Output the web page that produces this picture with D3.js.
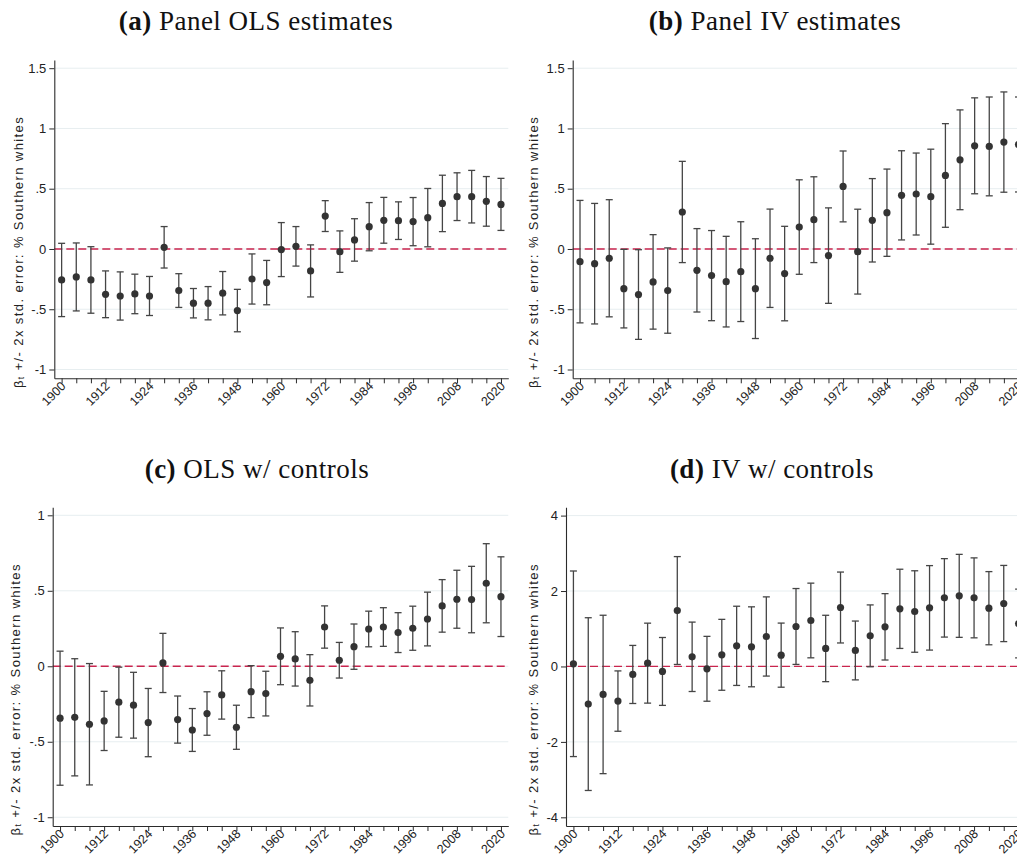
<!DOCTYPE html>
<html>
<head>
<meta charset="utf-8">
<script src="https://cdn.jsdelivr.net/npm/d3@7"></script>
<style>
  body { margin: 0; background: #fff; }
  svg { display: block; }
</style>
</head>
<body>
<svg id="chart" width="1017" height="854"></svg>
<script>
// Election years covered by every panel
const years = [1900, 1904, 1908, 1912, 1916, 1920, 1924, 1928, 1932, 1936, 1940,
               1944, 1948, 1952, 1956, 1960, 1964, 1968, 1972, 1976, 1980, 1984,
               1988, 1992, 1996, 2000, 2004, 2008, 2012, 2016, 2020];
// Years that carry a printed label on the x axis
const yearLabels = [1900, 1912, 1924, 1936, 1948, 1960, 1972, 1984, 1996, 2008, 2020];

// y-axis tick values
const ticksPanel   = [-1, -0.5, 0, 0.5, 1, 1.5];
const ticksOlsCtrl = [-1, -0.5, 0, 0.5, 1];
const ticksIvCtrl  = [-4, -2, 0, 2, 4];

// (a) Panel OLS: coefficient and standard error per year
const olsCoef = [-0.257, -0.232, -0.257, -0.376, -0.390, -0.373, -0.390, 0.014, -0.345, -0.450, -0.450,
                 -0.367, -0.511, -0.249, -0.279, -0.005, 0.022, -0.182, 0.273, -0.022, 0.075, 0.185,
                 0.238, 0.235, 0.227, 0.260, 0.378, 0.434, 0.434, 0.395, 0.370];
const olsSe   = [0.152, 0.141, 0.138, 0.097, 0.100, 0.082, 0.081, 0.086, 0.070, 0.061, 0.069,
                 0.090, 0.088, 0.104, 0.092, 0.112, 0.082, 0.108, 0.064, 0.086, 0.088, 0.100,
                 0.095, 0.078, 0.100, 0.121, 0.117, 0.099, 0.109, 0.103, 0.108];

// (b) Panel IV
const ivCoef = [-0.105, -0.122, -0.077, -0.329, -0.378, -0.273, -0.345, 0.307, -0.177, -0.221, -0.271,
                -0.188, -0.329, -0.077, -0.204, 0.182, 0.243, -0.055, 0.519, -0.022, 0.238, 0.301,
                0.445, 0.456, 0.434, 0.610, 0.740, 0.856, 0.851, 0.887, 0.867];
const ivSe   = [0.254, 0.250, 0.243, 0.163, 0.186, 0.196, 0.177, 0.210, 0.173, 0.187, 0.188,
                0.207, 0.207, 0.204, 0.196, 0.196, 0.178, 0.198, 0.147, 0.176, 0.173, 0.181,
                0.185, 0.170, 0.197, 0.215, 0.207, 0.199, 0.205, 0.208, 0.197];

// (c) OLS with controls
const olsCtrlCoef = [-0.344, -0.338, -0.384, -0.362, -0.238, -0.258, -0.373, 0.022, -0.353, -0.422, -0.313,
                     -0.190, -0.404, -0.168, -0.181, 0.066, 0.049, -0.093, 0.260, 0.040, 0.130, 0.247,
                     0.260, 0.223, 0.252, 0.313, 0.400, 0.444, 0.442, 0.550, 0.461];
const olsCtrlSe   = [0.222, 0.194, 0.201, 0.098, 0.116, 0.109, 0.113, 0.098, 0.078, 0.071, 0.072,
                     0.080, 0.073, 0.086, 0.074, 0.094, 0.090, 0.085, 0.070, 0.059, 0.075, 0.059,
                     0.064, 0.066, 0.073, 0.089, 0.087, 0.096, 0.110, 0.131, 0.132];

// (d) IV with controls
const ivCtrlCoef = [0.071, -0.998, -0.742, -0.918, -0.212, 0.088, -0.132, 1.483, 0.256, -0.062, 0.309,
                    0.547, 0.521, 0.795, 0.300, 1.060, 1.219, 0.477, 1.563, 0.424, 0.812, 1.051,
                    1.528, 1.457, 1.554, 1.819, 1.872, 1.819, 1.545, 1.669, 1.139];
const ivCtrlSe   = [1.230, 1.145, 1.050, 0.400, 0.385, 0.530, 0.450, 0.715, 0.460, 0.430, 0.470,
                    0.525, 0.530, 0.525, 0.425, 0.503, 0.495, 0.440, 0.470, 0.390, 0.410, 0.440,
                    0.525, 0.540, 0.560, 0.520, 0.550, 0.530, 0.485, 0.505, 0.455];

const svg = d3.select('#chart');
svg.append('rect').attr('width', 1017).attr('height', 854).attr('fill', '#ffffff');

// Stata-style numbers: drop the leading zero (.5, -.5)
const fmt = v => String(v).replace(/^(-?)0\./, '$1.');

const sans = "'Liberation Sans', Arial, Helvetica, sans-serif";
const serif = "'Liberation Serif', 'Times New Roman', Times, serif";

const panels = [
  { letter: '(a)', title: ' Panel OLS estimates', coef: olsCoef, se: olsSe, ticks: ticksPanel,
    yDomain: [-1.073, 1.568], left: 54.3, right: 508.3, top: 60, bottom: 378.3,
    titleX: 256, titleY: 30, labelX: 18.3 },
  { letter: '(b)', title: ' Panel IV estimates', coef: ivCoef, se: ivSe, ticks: ticksPanel,
    yDomain: [-1.073, 1.568], left: 572.7, right: 1025.8, top: 60, bottom: 378.3,
    titleX: 775, titleY: 30, labelX: 533.3 },
  { letter: '(c)', title: ' OLS w/ controls', coef: olsCtrlCoef, se: olsCtrlSe, ticks: ticksOlsCtrl,
    yDomain: [-1.058, 1.053], left: 52.7, right: 508.3, top: 507.3, bottom: 826,
    titleX: 257, titleY: 478, labelX: 15 },
  { letter: '(d)', title: ' IV w/ controls', coef: ivCtrlCoef, se: ivCtrlSe, ticks: ticksIvCtrl,
    yDomain: [-4.23, 4.22], left: 566, right: 1026, top: 507.3, bottom: 826,
    titleX: 772, titleY: 478, labelX: 532.7 }
];

panels.forEach(p => {
  const g = svg.append('g');
  const x = d3.scaleLinear().domain([1898, 2022]).range([p.left, p.right]);
  const y = d3.scaleLinear().domain(p.yDomain).range([p.bottom, p.top]);

  // horizontal grid
  g.append('g').selectAll('line').data(p.ticks).join('line')
    .attr('x1', p.left).attr('x2', p.right)
    .attr('y1', d => y(d)).attr('y2', d => y(d))
    .attr('stroke', '#e7eef0').attr('stroke-width', 1);

  // reference line at zero
  g.append('line')
    .attr('x1', p.left).attr('x2', p.right)
    .attr('y1', y(0)).attr('y2', y(0))
    .attr('stroke', '#c9254e').attr('stroke-width', 1.3)
    .attr('stroke-dasharray', '8,4');

  const rows = years.map((yr, i) => ({ yr, c: p.coef[i], se: p.se[i] }));

  // +/- 2 standard error bars
  const bars = g.append('g').attr('stroke', '#454545').attr('stroke-width', 1.3);
  bars.selectAll('line.v').data(rows).join('line').attr('class', 'v')
    .attr('x1', d => x(d.yr)).attr('x2', d => x(d.yr))
    .attr('y1', d => y(d.c - 2 * d.se)).attr('y2', d => y(d.c + 2 * d.se));
  bars.selectAll('line.hi').data(rows).join('line').attr('class', 'hi')
    .attr('x1', d => x(d.yr) - 3.5).attr('x2', d => x(d.yr) + 3.5)
    .attr('y1', d => y(d.c + 2 * d.se)).attr('y2', d => y(d.c + 2 * d.se));
  bars.selectAll('line.lo').data(rows).join('line').attr('class', 'lo')
    .attr('x1', d => x(d.yr) - 3.5).attr('x2', d => x(d.yr) + 3.5)
    .attr('y1', d => y(d.c - 2 * d.se)).attr('y2', d => y(d.c - 2 * d.se));

  // point estimates
  g.append('g').selectAll('circle').data(rows).join('circle')
    .attr('cx', d => x(d.yr)).attr('cy', d => y(d.c)).attr('r', 3.6)
    .attr('fill', '#333333');

  // y axis
  const ya = g.append('g').attr('transform', `translate(${p.left},0)`)
    .call(d3.axisLeft(y).tickValues(p.ticks).tickFormat(fmt).tickSize(5).tickSizeOuter(0).tickPadding(3));
  // x axis
  const xa = g.append('g').attr('transform', `translate(0,${p.bottom})`)
    .call(d3.axisBottom(x).tickValues(years)
      .tickFormat(d => yearLabels.includes(d) ? String(d) : '')
      .tickSize(5).tickSizeOuter(0));

  [ya, xa].forEach(a => {
    a.attr('font-family', sans).attr('font-size', 13);
    a.selectAll('.domain').attr('stroke', '#2b2b2b').attr('stroke-width', 1.1);
    a.selectAll('.tick line').attr('stroke', '#2b2b2b').attr('stroke-width', 1);
    a.selectAll('.tick text').attr('fill', '#222');
  });

  // slanted year labels, ending just right of their tick
  xa.selectAll('.tick text')
    .attr('x', null).attr('y', null).attr('dy', null)
    .attr('font-size', 12.5)
    .style('text-anchor', 'end')
    .attr('transform', 'translate(4.4,8.6) rotate(-45)');

  // panel title
  const t = g.append('text')
    .attr('x', p.titleX).attr('y', p.titleY)
    .attr('text-anchor', 'middle')
    .attr('font-family', serif).attr('font-size', 27).attr('letter-spacing', 0.5)
    .attr('fill', '#111');
  t.append('tspan').attr('font-weight', 'bold').text(p.letter);
  t.append('tspan').text(p.title);

  // y-axis title with subscript
  const yl = g.append('text')
    .attr('transform', `translate(${p.labelX},${p.top + 192}) rotate(-90)`)
    .attr('text-anchor', 'middle').attr('dominant-baseline', 'central')
    .attr('font-family', sans).attr('font-size', 13).attr('letter-spacing', 1.4)
    .attr('fill', '#222');
  yl.append('tspan').text('β');
  yl.append('tspan').attr('font-size', 8.5).attr('dy', 3).text('t');
  yl.append('tspan').attr('dy', -3).text(' +/- 2x std. error: % Southern whites');
});
</script>
</body>
</html>
